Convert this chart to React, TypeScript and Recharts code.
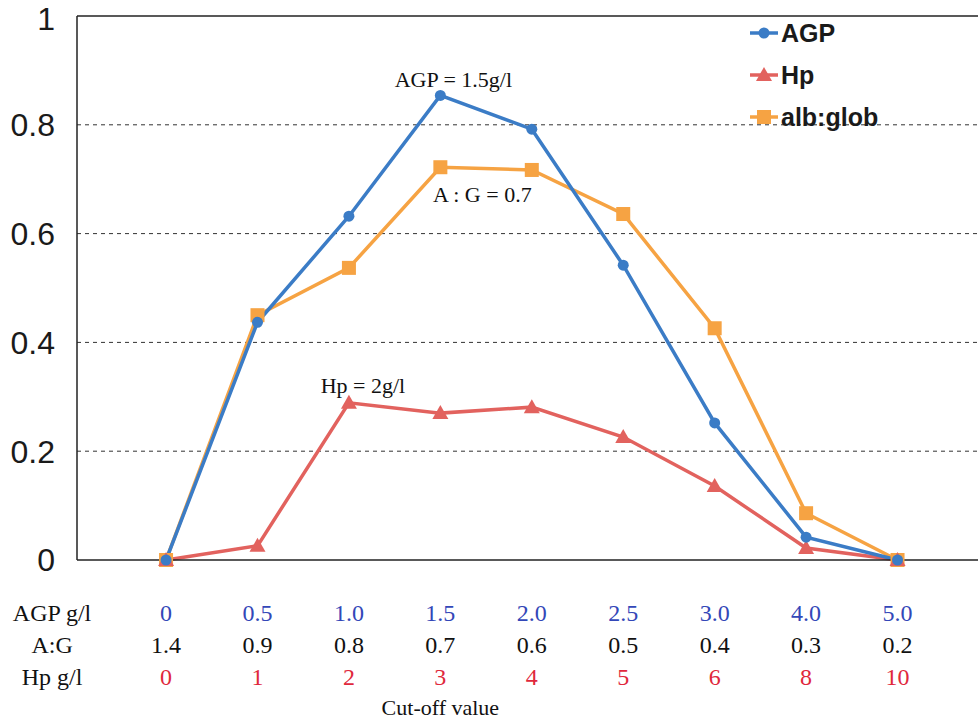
import React from "react";
import { CartesianGrid, Line, LineChart, ReferenceLine, XAxis, YAxis } from "recharts";

// cut-off positions (index along the x axis)
const cutoffIdx = [0, 1, 2, 3, 4, 5, 6, 7, 8];
const agpLabels = ["0", "0.5", "1.0", "1.5", "2.0", "2.5", "3.0", "4.0", "5.0"];
const agLabels = ["1.4", "0.9", "0.8", "0.7", "0.6", "0.5", "0.4", "0.3", "0.2"];
const hpLabels = ["0", "1", "2", "3", "4", "5", "6", "8", "10"];

const agpValues = [0, 0.437, 0.632, 0.854, 0.792, 0.542, 0.252, 0.042, 0];
const hpValues = [0, 0.026, 0.289, 0.27, 0.281, 0.226, 0.136, 0.022, 0];
const albGlobValues = [0, 0.45, 0.537, 0.722, 0.717, 0.636, 0.426, 0.086, 0];

const yTicks = [0, 0.2, 0.4, 0.6, 0.8, 1];

const rowNames = ["AGP g/l", "A:G", "Hp g/l"];

const BLUE = "#3b7cc6";
const RED = "#e2625e";
const ORANGE = "#f6a343";
const SERIF = "'Liberation Serif', 'Times New Roman', serif";
const SANS = "'Liberation Sans', Arial, sans-serif";

const data = cutoffIdx.map((i) => ({
  x: i,
  agp: agpValues[i],
  hp: hpValues[i],
  albGlob: albGlobValues[i],
}));

function Circle({ cx, cy }: any) {
  if (cx == null || cy == null) return null;
  return <circle cx={cx} cy={cy} r={5.5} fill={BLUE} />;
}

function Triangle({ cx, cy }: any) {
  if (cx == null || cy == null) return null;
  return (
    <polygon
      points={`${cx},${cy - 8} ${cx - 8},${cy + 6} ${cx + 8},${cy + 6}`}
      fill={RED}
    />
  );
}

function Square({ cx, cy }: any) {
  if (cx == null || cy == null) return null;
  return <rect x={cx - 7} y={cy - 7} width={14} height={14} fill={ORANGE} />;
}

// text label next to one point of a series
function note(index: number, text: string, dx: number, dy: number) {
  return (props: any) => {
    if (props.index !== index) return null;
    return (
      <text
        key={`n${index}`}
        x={props.x + dx}
        y={props.y + dy}
        textAnchor="middle"
        fontFamily={SERIF}
        fontSize={22}
        fill="#111"
      >
        {text}
      </text>
    );
  };
}

function TableTick({ x, y, payload }: any) {
  const i = payload.value as number;
  return (
    <g>
      {i === 0 &&
        rowNames.map((n, r) => (
          <text
            key={n}
            x={x - 114}
            y={y + 61 + r * 32}
            textAnchor="middle"
            fontFamily={SERIF}
            fontSize={24}
            fill="#111"
          >
            {n}
          </text>
        ))}
      <text x={x} y={y + 61} textAnchor="middle" fontFamily={SERIF} fontSize={24} fill="#3347b8">
        {agpLabels[i]}
      </text>
      <text x={x} y={y + 93} textAnchor="middle" fontFamily={SERIF} fontSize={24} fill="#111">
        {agLabels[i]}
      </text>
      <text x={x} y={y + 125} textAnchor="middle" fontFamily={SERIF} fontSize={24} fill="#e0283c">
        {hpLabels[i]}
      </text>
      {i === 3 && (
        <text x={x} y={y + 155} textAnchor="middle" fontFamily={SERIF} fontSize={22} fill="#111">
          Cut-off value
        </text>
      )}
    </g>
  );
}

const legendItems = [
  { name: "AGP", color: BLUE, shape: "circle" },
  { name: "Hp", color: RED, shape: "triangle" },
  { name: "alb:glob", color: ORANGE, shape: "square" },
];

function LegendBox() {
  return (
    <div style={{ position: "absolute", left: 748, top: 12 }}>
      {legendItems.map((it) => (
        <div key={it.name} style={{ display: "flex", alignItems: "center", height: 42 }}>
          <svg width={32} height={20}>
            <line x1={2} y1={10} x2={30} y2={10} stroke={it.color} strokeWidth={3.5} />
            {it.shape === "circle" && <circle cx={16} cy={10} r={5.5} fill={it.color} />}
            {it.shape === "triangle" && <polygon points="16,2 8,16 24,16" fill={it.color} />}
            {it.shape === "square" && <rect x={9} y={3} width={14} height={14} fill={it.color} />}
          </svg>
          <span
            style={{
              fontFamily: SANS,
              fontWeight: 700,
              fontSize: 25,
              color: "#1a1a1a",
              marginLeft: 1,
            }}
          >
            {it.name}
          </span>
        </div>
      ))}
    </div>
  );
}

export default function App() {
  return (
    <div
      style={{
        position: "absolute",
        left: 0,
        top: 0,
        width: 978,
        height: 722,
        background: "#fff",
        overflow: "hidden",
      }}
    >
      <LineChart
        width={978}
        height={722}
        data={data}
        margin={{ top: 16, right: 0, bottom: 0, left: 0 }}
      >
        <CartesianGrid
          vertical={false}
          stroke="#333"
          strokeDasharray="4 4"
          horizontalValues={[0.2, 0.4, 0.6, 0.8]}
        />
        <XAxis
          dataKey="x"
          type="number"
          domain={[-0.974, 8.88]}
          ticks={cutoffIdx}
          interval={0}
          height={162}
          tickSize={0}
          tickMargin={0}
          tick={<TableTick />}
          axisLine={{ stroke: "#222", strokeWidth: 1.5 }}
        />
        <YAxis
          type="number"
          domain={[0, 1]}
          ticks={yTicks}
          width={77}
          tickSize={0}
          tickMargin={22}
          tickFormatter={(v) => String(v)}
          tick={{ fontFamily: SANS, fontSize: 32, fill: "#1a1a1a" }}
          axisLine={{ stroke: "#222", strokeWidth: 1.5 }}
        />
        <ReferenceLine y={1} stroke="#222" strokeWidth={1.5} />
        <Line
          dataKey="albGlob"
          stroke={ORANGE}
          strokeWidth={3.5}
          dot={<Square />}
          activeDot={false}
          isAnimationActive={false}
          label={note(3, "A : G = 0.7", 42, 35)}
        />
        <Line
          dataKey="hp"
          stroke={RED}
          strokeWidth={3.5}
          dot={<Triangle />}
          activeDot={false}
          isAnimationActive={false}
          label={note(2, "Hp = 2g/l", 14, -10)}
        />
        <Line
          dataKey="agp"
          stroke={BLUE}
          strokeWidth={3.5}
          dot={<Circle />}
          activeDot={false}
          isAnimationActive={false}
          label={note(3, "AGP = 1.5g/l", 13, -8)}
        />
      </LineChart>
      <LegendBox />
    </div>
  );
}
